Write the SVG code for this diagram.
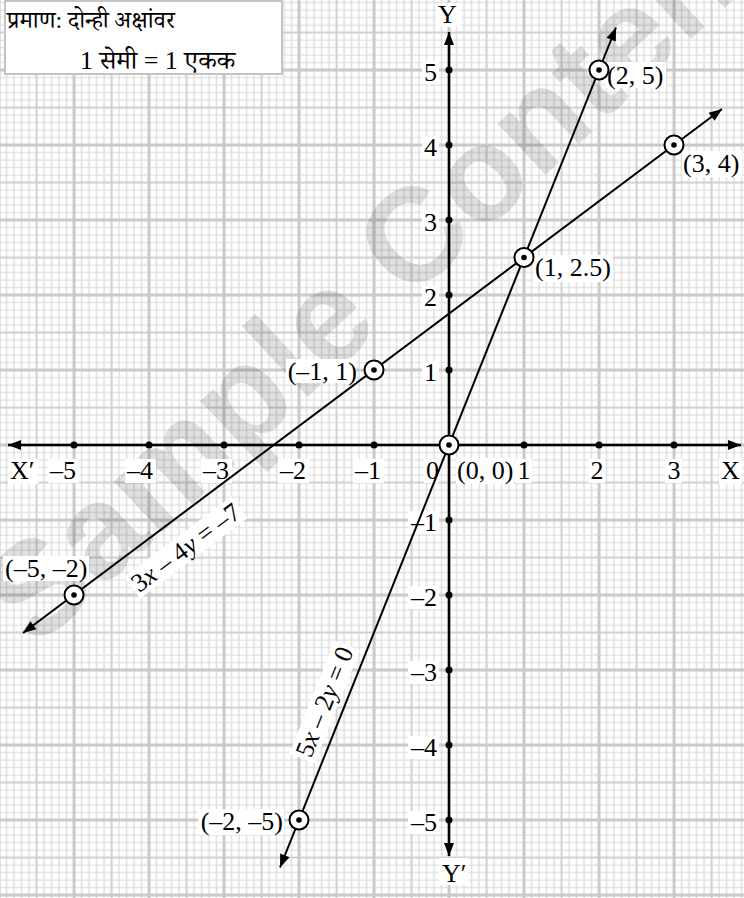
<svg xmlns="http://www.w3.org/2000/svg" xmlns:xlink="http://www.w3.org/1999/xlink" width="744" height="898" viewBox="0 0 744 898">
<style>
.t{font-family:'Liberation Serif','Times New Roman',serif;font-size:26px;fill:#000}
.dv{font-family:'Liberation Serif','Noto Serif Devanagari','Noto Sans Devanagari','Lohit Devanagari','FreeSerif',serif;font-size:26px;fill:#000}
.bg{fill:#fff}
.ax{stroke:#000;stroke-width:2.5;fill:none}
.ln{stroke:#000;stroke-width:2;fill:none}
.i{font-style:italic}
.e{text-anchor:end}
.m{text-anchor:middle}
</style>
<defs>
<pattern id="grid" x="407.75" y="403.75" width="75" height="75" patternUnits="userSpaceOnUse">
<path d="M11.25 0V75M18.75 0V75M26.25 0V75M33.75 0V75M48.75 0V75M56.25 0V75M63.75 0V75M71.25 0V75M0 11.25H75M0 18.75H75M0 26.25H75M0 33.75H75M0 48.75H75M0 56.25H75M0 63.75H75M0 71.25H75" stroke="#d9d9d9" stroke-width="1.2" fill="none"/>
<path d="M3.75 0V75M0 3.75H75" stroke="#d0d0d0" stroke-width="2" fill="none"/>
<path d="M41.25 0V75M0 41.25H75" stroke="#c9c9c9" stroke-width="3" fill="none"/>
</pattern>
<marker id="arr" viewBox="-14 -6 15 12" refX="0" refY="0" markerWidth="15" markerHeight="12" markerUnits="userSpaceOnUse" orient="auto-start-reverse">
<path d="M0,0 L-13,-5 L-13,5 Z" fill="#000"/>
</marker>
<g id="pt"><circle r="9.5" fill="#fff" stroke="#000" stroke-width="2"/><circle r="2.8" fill="#000"/></g>
</defs>

<rect width="744" height="898" fill="#fff"/>
<rect width="744" height="898" fill="url(#grid)"/>

<text x="36" y="650" transform="rotate(-43 36 650)" font-family="'Liberation Sans',Arial,sans-serif" font-weight="bold" font-size="133" fill="#000" fill-opacity="0.12">Sample Content</text>

<g id="scale-box">
<rect x="5" y="1" width="277" height="73" fill="#fff" stroke="#c4c4c4" stroke-width="2"/>
<text class="dv" x="7" y="28" font-size="24" style="font-size:24px">प्रमाण: दोन्ही अक्षांवर</text>
<text class="dv" x="80" y="69">1 सेमी = 1 एकक</text>
</g>

<g id="axis-labels">
<rect class="bg" x="436" y="3" width="25" height="24"/>
<text class="t" x="438" y="23">Y</text>
<rect class="bg" x="439" y="858" width="29" height="27"/>
<text class="t" x="442" y="882">Y′</text>
<rect class="bg" x="8" y="459" width="30" height="25"/>
<text class="t" x="10" y="479">X′</text>
<rect class="bg" x="719" y="459" width="23" height="25"/>
<text class="t" x="721" y="479">X</text>

<g id="xticks">
<rect class="bg" x="48" y="459" width="31" height="24"/><text class="t" x="50" y="479">–5</text>
<rect class="bg" x="125" y="459" width="31" height="24"/><text class="t" x="127" y="479">–4</text>
<rect class="bg" x="201" y="459" width="31" height="24"/><text class="t" x="203" y="479">–3</text>
<rect class="bg" x="278" y="459" width="31" height="24"/><text class="t" x="280" y="479">–2</text>
<rect class="bg" x="353" y="459" width="31" height="24"/><text class="t" x="355" y="479">–1</text>
<rect class="bg" x="424" y="459" width="15" height="24"/><text class="t" x="426" y="479">0</text>
<rect class="bg" x="515" y="459" width="17" height="24"/><text class="t m" x="524" y="479">1</text>
<rect class="bg" x="588" y="459" width="17" height="24"/><text class="t m" x="597" y="479">2</text>
<rect class="bg" x="665" y="459" width="17" height="24"/><text class="t m" x="674" y="479">3</text>
</g>

<g id="yticks">
<rect class="bg" x="422" y="61" width="17" height="23"/><text class="t e" x="437" y="81">5</text>
<rect class="bg" x="422" y="136" width="17" height="23"/><text class="t e" x="437" y="156">4</text>
<rect class="bg" x="422" y="211" width="17" height="23"/><text class="t e" x="437" y="231">3</text>
<rect class="bg" x="422" y="286" width="17" height="23"/><text class="t e" x="437" y="306">2</text>
<rect class="bg" x="422" y="361" width="17" height="23"/><text class="t e" x="437" y="381">1</text>
<rect class="bg" x="408" y="511" width="31" height="23"/><text class="t e" x="437" y="531">–1</text>
<rect class="bg" x="408" y="586" width="31" height="23"/><text class="t e" x="437" y="606">–2</text>
<rect class="bg" x="408" y="661" width="31" height="23"/><text class="t e" x="437" y="681">–3</text>
<rect class="bg" x="408" y="736" width="31" height="23"/><text class="t e" x="437" y="756">–4</text>
<rect class="bg" x="408" y="811" width="31" height="23"/><text class="t e" x="437" y="831">–5</text>
</g>
</g>

<g id="line-labels">
<g id="label-3x-4y" transform="translate(186,548) rotate(-36.87)">
<rect class="bg" x="-67" y="-14" width="134" height="27"/>
<text class="t m" x="0" y="8">3<tspan class="i">x</tspan> – 4<tspan class="i">y</tspan> = –7</text>
</g>
<g id="label-5x-2y" transform="translate(325,702) rotate(-68.2)">
<rect class="bg" x="-61" y="-14" width="122" height="27"/>
<text class="t m" x="0" y="8">5<tspan class="i">x</tspan> – 2<tspan class="i">y</tspan> = 0</text>
</g>
</g>

<g id="connectors">
<line class="ax" x1="8" y1="445" x2="741" y2="445" marker-start="url(#arr)" marker-end="url(#arr)"/>
<line class="ax" x1="449" y1="32" x2="449" y2="856" marker-start="url(#arr)" marker-end="url(#arr)"/>
<line class="ln" id="line-5x-2y" x1="280" y1="867.5" x2="616" y2="27.5" marker-start="url(#arr)" marker-end="url(#arr)"/>
<line class="ln" id="line-3x-4y" x1="23" y1="633" x2="722" y2="109" marker-start="url(#arr)" marker-end="url(#arr)"/>
<g id="tick-dots" fill="#000">
<circle cx="74" cy="445" r="3.5"/><circle cx="149" cy="445" r="3.5"/><circle cx="224" cy="445" r="3.5"/><circle cx="299" cy="445" r="3.5"/><circle cx="374" cy="445" r="3.5"/>
<circle cx="524" cy="445" r="3.5"/><circle cx="599" cy="445" r="3.5"/><circle cx="674" cy="445" r="3.5"/>
<circle cx="449" cy="70" r="3.5"/><circle cx="449" cy="145" r="3.5"/><circle cx="449" cy="220" r="3.5"/><circle cx="449" cy="295" r="3.5"/><circle cx="449" cy="370" r="3.5"/>
<circle cx="449" cy="520" r="3.5"/><circle cx="449" cy="595" r="3.5"/><circle cx="449" cy="670" r="3.5"/><circle cx="449" cy="745" r="3.5"/><circle cx="449" cy="820" r="3.5"/>
</g>
</g>

<g id="p-2-5">
<rect class="bg" x="606" y="62" width="60" height="26"/>
<text class="t" x="607" y="84">(2, 5)</text>
<use xlink:href="#pt" x="599" y="70"/>
</g>
<g id="p-3-4">
<rect class="bg" x="682" y="151" width="60" height="26"/>
<text class="t" x="683" y="172">(3, 4)</text>
<use xlink:href="#pt" x="674" y="145"/>
</g>
<g id="p-1-2.5">
<rect class="bg" x="533" y="255" width="80" height="27"/>
<text class="t" x="535" y="276">(1, 2.5)</text>
<use xlink:href="#pt" x="524" y="257.5"/>
</g>
<g id="p-m1-1">
<rect class="bg" x="286" y="359" width="70" height="24"/>
<text class="t e" x="357" y="380">(–1, 1)</text>
<use xlink:href="#pt" x="374" y="370"/>
</g>
<g id="p-0-0">
<rect class="bg" x="456" y="458" width="58" height="26"/>
<text class="t" x="457" y="479">(0, 0)</text>
<use xlink:href="#pt" x="449" y="445"/>
</g>
<g id="p-m5-m2">
<rect class="bg" x="3" y="556" width="86" height="25"/>
<text class="t" x="5" y="577">(–5, –2)</text>
<use xlink:href="#pt" x="74" y="595"/>
</g>
<g id="p-m2-m5">
<rect class="bg" x="198" y="809" width="86" height="26"/>
<text class="t e" x="283" y="830">(–2, –5)</text>
<use xlink:href="#pt" x="299" y="820"/>
</g>
</svg>
